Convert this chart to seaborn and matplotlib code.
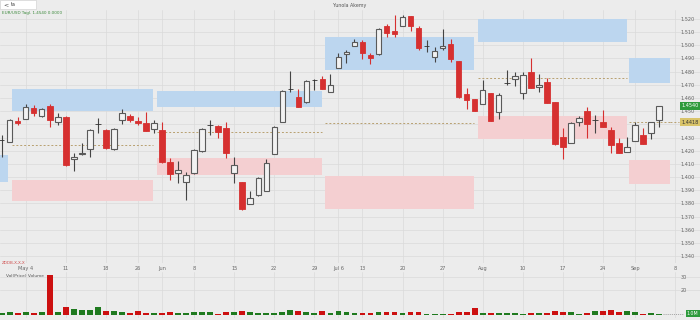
import numpy as np
import pandas as pd
import matplotlib
matplotlib.use("Agg")
import matplotlib.pyplot as plt
from matplotlib.patches import Rectangle
import seaborn as sns

# ---------------- data ----------------
opens = [1.4282, 1.4266, 1.4426, 1.4441, 1.4525, 1.4464, 1.4540, 1.4418, 1.4456, 1.4137,
         1.4175, 1.4213, 1.4403, 1.4358, 1.4213, 1.4433, 1.4464, 1.4426, 1.4411, 1.4365,
         1.4358, 1.4115, 1.4031, 1.3963, 1.4031, 1.4198, 1.4395, 1.4388, 1.4373, 1.4031,
         1.3963, 1.3796, 1.3864, 1.3894, 1.4175, 1.4418, 1.4669, 1.4608, 1.4570, 1.4737,
         1.4745, 1.4646, 1.4828, 1.4934, 1.4995, 1.5025, 1.4927, 1.4934, 1.5147, 1.5109,
         1.5147, 1.5223, 1.5132, 1.4995, 1.4912, 1.4980, 1.5010, 1.4881, 1.4631, 1.4593,
         1.4555, 1.4638, 1.4494, 1.4714, 1.4745, 1.4638, 1.4798, 1.4684, 1.4722, 1.4570,
         1.4304, 1.4259, 1.4418, 1.4502, 1.4433, 1.4418, 1.4358, 1.4259, 1.4191, 1.4274,
         1.4320, 1.4335, 1.4433]
closes = [1.4282, 1.4433, 1.4411, 1.4532, 1.4487, 1.4517, 1.4433, 1.4456, 1.4092, 1.4153,
          1.4183, 1.4358, 1.4403, 1.4221, 1.4365, 1.4487, 1.4433, 1.4411, 1.4350, 1.4411,
          1.4115, 1.4024, 1.4054, 1.4016, 1.4206, 1.4365, 1.4395, 1.4342, 1.4183, 1.4092,
          1.3758, 1.3841, 1.3993, 1.4107, 1.4380, 1.4653, 1.4669, 1.4532, 1.4729, 1.4737,
          1.4669, 1.4699, 1.4912, 1.4950, 1.5025, 1.4942, 1.4904, 1.5124, 1.5094, 1.5086,
          1.5215, 1.5147, 1.4980, 1.4995, 1.4957, 1.4995, 1.4896, 1.4608, 1.4585, 1.4502,
          1.4661, 1.4426, 1.4623, 1.4714, 1.4767, 1.4775, 1.4676, 1.4699, 1.4562, 1.4251,
          1.4228, 1.4411, 1.4449, 1.4403, 1.4433, 1.4380, 1.4244, 1.4183, 1.4228, 1.4395,
          1.4251, 1.4418, 1.4540]
highs = [1.4320, 1.4441, 1.4456, 1.4555, 1.4547, 1.4525, 1.4555, 1.4487, 1.4464, 1.4183,
         1.4259, 1.4365, 1.4449, 1.4365, 1.4373, 1.4517, 1.4479, 1.4456, 1.4494, 1.4433,
         1.4418, 1.4145, 1.4122, 1.4039, 1.4213, 1.4373, 1.4433, 1.4395, 1.4418, 1.4153,
         1.3963, 1.3894, 1.4001, 1.4137, 1.4388, 1.4661, 1.4805, 1.4669, 1.4737, 1.4745,
         1.4767, 1.4783, 1.4942, 1.4965, 1.5048, 1.5041, 1.4942, 1.5132, 1.5162, 1.5230,
         1.5230, 1.5223, 1.5147, 1.5041, 1.4987, 1.5124, 1.5048, 1.4881, 1.4676, 1.4593,
         1.4737, 1.4638, 1.4638, 1.4813, 1.4798, 1.4798, 1.4904, 1.4783, 1.4752, 1.4570,
         1.4373, 1.4418, 1.4464, 1.4532, 1.4471, 1.4509, 1.4380, 1.4297, 1.4304, 1.4418,
         1.4373, 1.4418, 1.4540]
lows = [1.4153, 1.4266, 1.4395, 1.4441, 1.4464, 1.4456, 1.4380, 1.4395, 1.4084, 1.4046,
        1.4168, 1.4153, 1.4335, 1.4213, 1.4206, 1.4403, 1.4418, 1.4395, 1.4350, 1.4335,
        1.4107, 1.3978, 1.3955, 1.3826, 1.4024, 1.4191, 1.4320, 1.4297, 1.4145, 1.3955,
        1.3750, 1.3796, 1.3857, 1.3894, 1.4175, 1.4418, 1.4646, 1.4532, 1.4562, 1.4661,
        1.4669, 1.4646, 1.4828, 1.4866, 1.4995, 1.4896, 1.4858, 1.4927, 1.5063, 1.5063,
        1.5147, 1.5109, 1.4965, 1.4950, 1.4874, 1.4965, 1.4874, 1.4600, 1.4517, 1.4502,
        1.4555, 1.4426, 1.4441, 1.4699, 1.4691, 1.4593, 1.4676, 1.4646, 1.4562, 1.4244,
        1.4137, 1.4259, 1.4388, 1.4297, 1.4335, 1.4380, 1.4183, 1.4183, 1.4191, 1.4274,
        1.4251, 1.4289, 1.4380]
volumes = [1.8, 2.6, 1.3, 2.6, 1.8, 2.4, 31.6, 2.6, 6.1, 4.5, 4.0, 4.0, 6.6, 3.4, 2.9,
           2.4, 1.3, 2.9, 1.8, 1.8, 1.8, 2.4, 1.8, 1.3, 2.1, 2.1, 2.1, 1.0, 2.1, 2.6,
           2.9, 2.1, 1.6, 1.6, 1.6, 2.6, 4.0, 3.2, 2.4, 1.8, 3.4, 1.8, 3.4, 2.6, 1.8,
           1.3, 1.3, 2.1, 2.4, 2.4, 1.8, 2.4, 2.4, 1.0, 1.0, 1.0, 1.0, 2.4, 2.4, 5.8,
           1.3, 1.3, 1.8, 1.8, 1.3, 1.0, 1.3, 1.8, 1.3, 2.9, 2.4, 2.4, 1.0, 1.6, 2.9,
           2.9, 3.7, 2.4, 2.9, 2.4, 1.0, 1.6, 1.0]
date_positions = [3, 8, 13, 17, 20, 24, 29, 34, 39, 42, 45, 50, 55, 60, 65, 70, 75, 79, 84]
date_labels = ["May 4", "11", "18", "26", "Jun", "8", "15", "22", "29", "Jul 6",
               "13", "20", "27", "Aug", "10", "17", "24", "Sep", "8"]
price_ticks = [1.52, 1.51, 1.50, 1.49, 1.48, 1.47, 1.46, 1.45, 1.44, 1.43,
               1.42, 1.41, 1.40, 1.39, 1.38, 1.37, 1.36, 1.35, 1.34]

zone_start = [1.3, 19.4, 40.3, 59.4, 78.3]
zone_end = [18.9, 40.0, 58.9, 78.0, 83.3]
blue_top = [1.4669, 1.4653, 1.5063, 1.5200, 1.4904]
blue_bottom = [1.4502, 1.4532, 1.4813, 1.5025, 1.4714]
pink_top = [1.3978, 1.4145, 1.4008, 1.4464, 1.4130]
pink_bottom = [1.3819, 1.4016, 1.3758, 1.4289, 1.3948]
pivot_level = [1.4244, 1.4342, 1.4411, 1.4752, 1.4418]
prev_zone = [-0.6, 0.8]
prev_blue = [1.4168, 1.3963]

last_price = 1.4540
pivot_price = 1.4418

# ---------------- style ----------------
sns.set_theme(style="whitegrid")
plt.rcParams["font.family"] = ["DejaVu Sans"]
BG = "#ececec"
GRID = "#dadada"
RED = "#d63030"
EDGE = "#5a5a5a"
BLUE = "#bcd6ef"
PINK = "#f4cfd1"

fig = plt.figure(figsize=(7, 3.2), dpi=100)
fig.patch.set_facecolor(BG)

ax = fig.add_axes([0, 57 / 320, 1, 253 / 320])
axv = fig.add_axes([0, 2 / 320, 1, 46 / 320])
for a in (ax, axv):
    a.set_facecolor(BG)
    for s in a.spines.values():
        s.set_visible(False)

n = len(opens)
idx = np.arange(n)
o = np.array(opens); c = np.array(closes); h = np.array(highs); l = np.array(lows)

# zones
for x0, x1, bt, bb, pt, pb, pv in zip(zone_start, zone_end, blue_top, blue_bottom,
                                        pink_top, pink_bottom, pivot_level):
    ax.add_patch(Rectangle((x0, bb), x1 - x0, bt - bb, color=BLUE, lw=0, zorder=1))
    ax.add_patch(Rectangle((x0, pb), x1 - x0, pt - pb, color=PINK, lw=0, zorder=1))
    ax.hlines(pv, x0, x1, colors="#b8a070", linestyles=(0, (2, 2)), lw=0.7, zorder=2)
ax.add_patch(Rectangle((prev_zone[0], prev_blue[1]), prev_zone[1] - prev_zone[0],
                       prev_blue[0] - prev_blue[1], color=BLUE, lw=0, zorder=1))

# candles
up = c > o
doji = np.isclose(c, o)
down = c < o
ax.vlines(idx, l, h, colors=np.where(down, RED, "#444444"), lw=0.8, zorder=3)
body_bot = np.minimum(o, c)
body_h = np.maximum(np.abs(c - o), 0.00025)
ax.bar(idx[up], body_h[up], bottom=body_bot[up], width=0.68, color="#f2f2f2",
       edgecolor=EDGE, linewidth=0.8, zorder=4)
ax.bar(idx[down], body_h[down], bottom=body_bot[down], width=0.68, color=RED,
       edgecolor=RED, linewidth=0.6, zorder=4)
ax.bar(idx[doji], body_h[doji], bottom=body_bot[doji] - 0.0001, width=0.68,
       color="#333333", edgecolor="#333333", linewidth=0.6, zorder=4)

ax.set_xlim(-0.21, 87.1)
ax.set_ylim(1.3348, 1.5268)
ax.set_yticks(price_ticks)
# the 1.440 label sits under the pivot price box, as in the reference
ax.set_yticklabels(["" if abs(t - 1.44) < 1e-9 else f"{t:.3f}" for t in price_ticks])
ax.yaxis.tick_right()
ax.tick_params(axis="y", direction="in", pad=-14, length=0, labelsize=3.6, labelcolor="#666666")
ax.set_xticks(date_positions)
ax.set_xticklabels(date_labels)
ax.tick_params(axis="x", length=0, pad=2, labelsize=3.6, labelcolor="#666666")
ax.grid(True, color=GRID, lw=0.5)

# price labels
ax.text(86.9, last_price, f"{last_price:.4f}", ha="right", va="center", fontsize=3.6,
        color="white", bbox=dict(boxstyle="square,pad=0.25", fc="#2e9a3c", ec="none"), zorder=6)
ax.text(86.9, pivot_price, f"{pivot_price:.4f}", ha="right", va="center", fontsize=3.6,
        color="#333333", bbox=dict(boxstyle="square,pad=0.25", fc="#d9c46a", ec="none"), zorder=6)
ax.hlines(pivot_price, 83.3, 84.5, colors="#b8a070", linestyles=(0, (2, 2)), lw=0.7)

# volume with seaborn
vdf = pd.DataFrame({"idx": idx, "vol": volumes,
                    "dir": np.where(c >= o, "up", "down")})
sns.barplot(data=vdf, x="idx", y="vol", hue="dir", native_scale=True, dodge=False,
            palette={"up": "#1f7a1f", "down": "#cc1010"}, width=0.72, linewidth=0,
            saturation=1, legend=False, ax=axv)
axv.set_xlim(-0.21, 87.1)
axv.set_ylim(-2.37, 33.97)
axv.set_xticks(date_positions)
axv.set_xticklabels([])
axv.tick_params(axis="x", length=0)
axv.set_yticks([20, 30])
axv.set_yticklabels(["20", "30"])
axv.yaxis.tick_right()
axv.tick_params(axis="y", direction="in", pad=-14, length=0, labelsize=3.6, labelcolor="#666666")
axv.grid(True, color=GRID, lw=0.5)
axv.set_xlabel(""); axv.set_ylabel("")
axv.text(0.6, 30.5, "Vol(Price) Volume", fontsize=3.2, color="#555555", va="center")
axv.hlines(volumes[-1], 82.5, 85, colors="#888888", linestyles=(0, (1.5, 1.5)), lw=0.5)
axv.text(86.9, volumes[-1] + 0.3, f"{volumes[-1]:.1f}M", ha="right", va="center", fontsize=3.4,
         color="white", bbox=dict(boxstyle="square,pad=0.25", fc="#2e9a3c", ec="none"))

# header texts
fig.patches.append(Rectangle((0, 311 / 320), 36 / 700, 9 / 320, transform=fig.transFigure,
                             fc="white", ec="#cccccc", lw=0.4))
fig.text(3 / 700, 315 / 320, "<", fontsize=4.5, color="#444444", va="center")
fig.text(11 / 700, 315 / 320, "ta", fontsize=3.4, color="#333333", va="center")
fig.text(0.5, 315 / 320, "Yunola Akemy", fontsize=3.4, color="#555555", va="center", ha="center")
fig.text(2 / 700, 307 / 320, "EUR/USD Tagl. 1.4540 0.0000", fontsize=3.0, color="#3d8a3d", va="center")
fig.text(2 / 700, 57 / 320, "ZDDB-X-X-X", fontsize=3.0, color="#d05050", va="center")

fig.savefig("out.png", dpi=100, facecolor=BG)
